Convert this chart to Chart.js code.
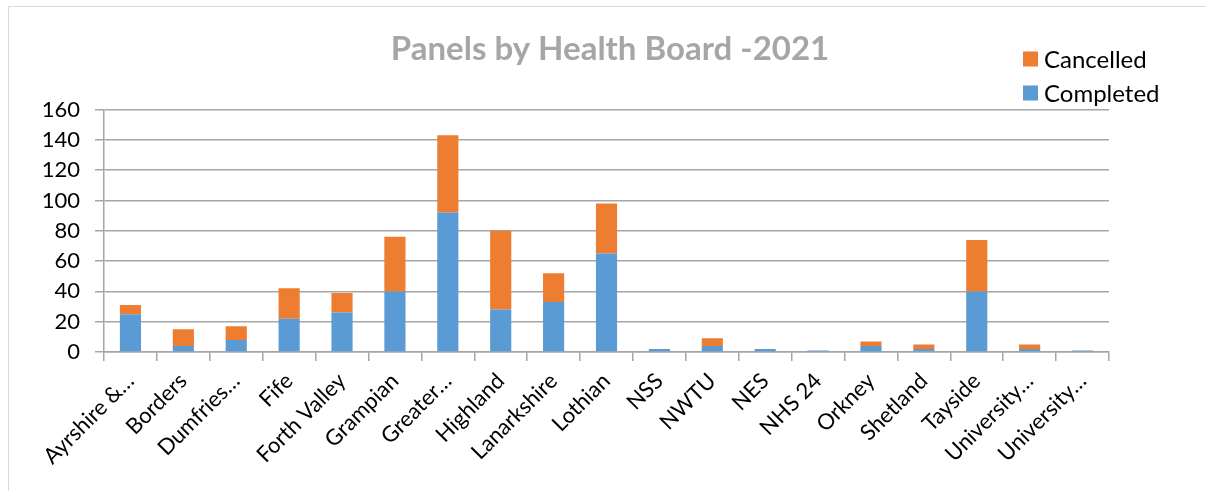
<!DOCTYPE html>
<html>
<head>
<meta charset="utf-8">
<script src="https://cdn.jsdelivr.net/npm/chart.js@4.4.0/dist/chart.umd.min.js"></script>
<style>
  html, body { margin: 0; padding: 0; background: #fff; overflow: hidden; }
  #frame { position: absolute; left: 8px; top: 6px; width: 1400px; height: 700px; border: 1px solid #d9d9d9; }
  #wrap { position: absolute; left: 0; top: 0; width: 1206px; height: 491px; }
</style>
</head>
<body>
<div id="frame"></div>
<div id="wrap"><canvas id="boardChart"></canvas></div>
<script>
// Health boards (labels as truncated in the original)
const boards = ["Ayrshire &…", "Borders", "Dumfries…", "Fife", "Forth Valley", "Grampian", "Greater…",
    "Highland", "Lanarkshire", "Lothian", "NSS", "NWTU", "NES", "NHS 24", "Orkney", "Shetland",
    "Tayside", "University…", "University…"];

// Panels per board
const completed = [25, 4, 8, 22, 26, 40, 92, 28, 33, 65, 2, 4, 2, 1, 4, 2, 40, 2, 1];
const cancelled = [6, 11, 9, 20, 13, 36, 51, 52, 19, 33, 0, 5, 0, 0, 3, 3, 34, 3, 0];

// Y axis ticks
const yTicks = [0, 20, 40, 60, 80, 100, 120, 140, 160];

const FONT = 'Lato, "Open Sans", sans-serif';

// legend drawn at the top right, Cancelled first like the original
const sideLegend = {
    id: 'sideLegend',
    afterDraw(chart) {
        const ctx = chart.ctx;
        const items = chart.data.datasets.slice().reverse();
        ctx.save();
        ctx.font = '24px ' + FONT;
        ctx.textBaseline = 'middle';
        ctx.textAlign = 'left';
        items.forEach((ds, i) => {
            const y = 59 + i * 34;
            ctx.fillStyle = ds.backgroundColor;
            ctx.fillRect(1023, y - 7.5, 15, 15);
            ctx.fillStyle = '#000';
            ctx.fillText(ds.label, 1044, y + 1);
        });
        ctx.restore();
    }
};

function initializeChart() {
    const ctx = document.getElementById('boardChart').getContext('2d');
    new Chart(ctx, {
        type: 'bar',
        data: {
            labels: boards,
            datasets: [{
                label: 'Completed',
                data: completed,
                backgroundColor: '#5b9bd5',
                borderWidth: 0,
                barPercentage: 0.4,
                categoryPercentage: 1
            }, {
                label: 'Cancelled',
                data: cancelled,
                backgroundColor: '#ed7d31',
                borderWidth: 0,
                barPercentage: 0.4,
                categoryPercentage: 1
            }]
        },
        options: {
            responsive: true,
            maintainAspectRatio: false,
            animation: false,
            layout: { padding: { left: 14, right: 0, top: 0, bottom: 0 } },
            plugins: {
                legend: { display: false },
                tooltip: { enabled: false },
                title: {
                    display: true,
                    text: 'Panels by Health Board -2021',
                    color: '#a6a6a6',
                    font: { family: FONT, size: 33, weight: 'bold' },
                    padding: { top: 30, bottom: 40 }
                }
            },
            scales: {
                x: {
                    stacked: true,
                    grid: { display: true, drawOnChartArea: false, offset: true, color: '#a6a6a6', lineWidth: 1.5, tickLength: 9 },
                    border: { color: '#a6a6a6', width: 1.5 },
                    ticks: {
                        color: '#000',
                        font: { family: FONT, size: 22 },
                        minRotation: 45,
                        maxRotation: 45,
                        autoSkip: false,
                        padding: 7
                    },
                    afterFit(scale) { scale.height = 139; }
                },
                y: {
                    stacked: true,
                    min: 0,
                    max: yTicks[yTicks.length - 1],
                    afterBuildTicks(scale) { scale.ticks = yTicks.map(v => ({ value: v })); },
                    grid: { color: '#a6a6a6', lineWidth: 1.5, tickLength: 9 },
                    border: { color: '#a6a6a6', width: 1.5 },
                    ticks: {
                        color: '#000',
                        font: { family: FONT, size: 22 },
                        padding: 15
                    },
                    afterFit(scale) { scale.width = 90; }
                },
                // empty right-hand axis only reserves the space where the legend sits
                yRight: {
                    position: 'right',
                    display: true,
                    grid: { display: false },
                    border: { display: false },
                    ticks: { display: false },
                    afterFit(scale) { scale.width = 97; }
                }
            }
        },
        plugins: [sideLegend]
    });
}

document.addEventListener('DOMContentLoaded', function() {
    initializeChart();
});
</script>
</body>
</html>
